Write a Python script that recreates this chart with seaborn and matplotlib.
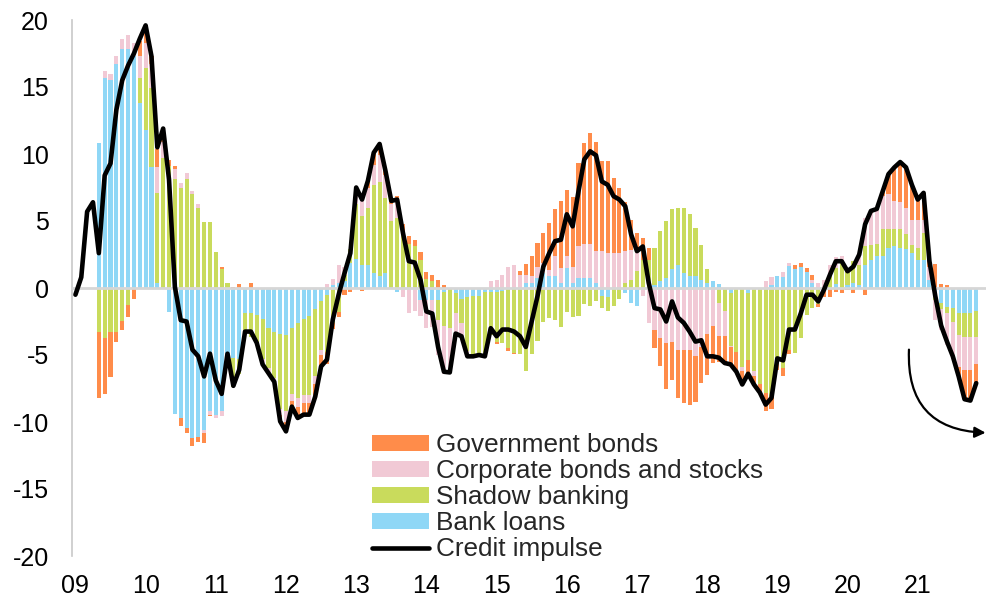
import numpy as np
import pandas as pd
import matplotlib
matplotlib.use("Agg")
import matplotlib.pyplot as plt
from matplotlib.patches import Patch
from matplotlib.lines import Line2D
import seaborn as sns

# ---------------------------------------------------------------------------
# Monthly credit-impulse decomposition (% of GDP)
# ---------------------------------------------------------------------------
bar_start, bar_end = "2009-05", "2021-11"
line_start, line_end = "2009-01", "2021-11"

bank_loans = [
    10.8, 15.7, 15.5, 16.7, 17.85, 17.8, 17.3, 13.8, 11.8, 9.0,
    0.4, 0, -1.8, -9.4, -9.7, -10.45, -11.2, -11.1, -10.6, -9.2,
    -9.45, -9.15, -5.3, -5.2, -5.3, -1.85, -1.85, -2.0, -2.3, -3.0,
    -3.3, -3.4, -3.5, -3.0, -2.6, -2.3, -2.1, -1.6, -1.0, -0.5,
    0.2, 0.4, 0.5, 1.9, 2.2, 1.75, 1.75, 1.1, 0.9, 1.1,
    0, -0.3, 0, 0, 0, -0.9, -0.9, -0.9, -0.9, -0.3,
    0, -0.4, -0.8, -0.7, -0.6, -0.6, -0.3, -0.3, -0.3, -0.2,
    0, 0, 0, 0.35, 0.37, 0.75, 1.1, 0.87, 0.87, 0.37,
    1.5, 0.37, 0.75, 0.75, 0.75, 0.37, -0.6, -0.7, 0, 0,
    -0.35, -1.1, -1.35, 0, 0, 0.25, 0.5, 0.75, 1.4, 1.75,
    1.1, 0.9, 0.9, 0.6, 0.4, 0.5, 0.3, 0, -0.4, 0,
    0, -0.4, 0, 0, 0, 0.2, 0.9, 0.8, 1.65, 1.45,
    1.6, 1.2, 0.4, 0, 0, 0, 0.3, 0, 0.2, 0.4,
    0.2, 1.75, 2.1, 2.4, 2.4, 3.0, 3.1, 3.0, 2.9, 2.6,
    2.1, 2.1, 0.6, -0.6, -1.1, -1.4, -1.5, -1.9, -1.9, -1.9, -1.75,
]

shadow_banking = [
    -3.25, -3.75, -3.25, -3.25, -2.45, -1.3, 0, 1.9, 4.6, 5.9,
    6.7, 9.7, 9.1, 8.1, 7.5, 8.1, 7.0, 6.0, 4.9, 4.9,
    2.7, 1.4, 0.4, -2.2, -1.1, -1.4, -1.8, -2.1, -3.0, -3.0,
    -3.4, -5.6, -5.7, -4.9, -5.6, -5.7, -5.9, -5.0, -3.6, -4.3,
    -2.6, -1.8, 0.5, 1.0, 4.1, 3.6, 4.2, 6.6, 7.0, 5.6,
    5.0, 5.2, 4.25, 3.25, 3.1, 2.1, 0.7, 0.5, -1.5, -2.5,
    -3.0, -1.5, -1.8, -4.0, -4.5, -4.4, -4.6, -3.2, -3.7, -3.9,
    -4.5, -4.85, -4.9, -6.2, -4.9, -3.95, -2.5, -2.25, -2.4, -2.9,
    -1.8, -2.2, -2.1, -1.2, -1.35, -1.0, -0.9, -1.05, -1.35, -0.85,
    0.4, 0.6, 1.25, 2.1, 2.1, 2.75, 3.75, 4.25, 4.5, 4.25,
    4.85, 4.6, 3.6, 2.6, 1.0, 0, -1.1, -1.75, -3.9, -4.75,
    -5.9, -5.0, -6.2, -7.2, -7.8, -8.1, -5.5, -6.0, -4.6, -4.85,
    -3.75, -2.0, -1.5, -1.2, 0, 0.9, 1.2, 1.9, 1.2, 1.6,
    1.5, 1.4, 1.1, 0.9, 2.0, 1.4, 1.3, 1.4, 1.1, 0.6,
    0.9, 2.0, 0, -0.3, -0.5, -0.5, -1.0, -1.6, -1.75, -1.75, -1.9,
]

corporate_bonds_stocks = [
    0, 0.5, 0.5, 0.6, 0.7, 1.05, 1.0, 1.6, 1.9, 1.8,
    1.9, 1.2, 0, 0.8, 0.3, 0.5, 0.25, 0.25, -0.25, -0.25,
    -0.25, -0.4, 0, 0, 0, 0, 0, 0, -0.4, -0.35,
    -0.3, -0.5, -0.8, -0.5, -0.7, -0.6, -0.6, -0.6, -0.4, 0.3,
    0.5, 1.3, 0.6, 0, 1.2, 1.5, 1.5, 1.5, 2.0, 1.75,
    1.3, 1.2, -0.65, -1.85, -1.7, -1.2, -2.05, -2.0, -2.6, -3.65,
    -3.3, -1.5, -1.0, -0.4, 0, 0, 0, 0.5, 0.6, 1.0,
    1.6, 1.7, 1.0, 0.6, 0.5, 0.85, 0.75, 0.5, 1.5, 1.1,
    0.9, 1.2, 2.35, 2.5, 2.5, 2.4, 2.75, 2.6, 2.6, 2.6,
    2.35, 2.25, 1.6, -0.6, -2.6, -3.1, -3.75, -4.1, -4.0, -4.6,
    -4.6, -4.6, -5.1, -4.4, -3.4, -2.85, -2.5, -1.85, -0.1, 0,
    -0.3, 0, -0.4, 0, 0.5, 0.6, 0, 0.4, 0.2, 0,
    0, 0, 0.2, 0.4, 0.6, 0.8, 0.8, 0.5, 0, 0,
    0.9, 2.1, 2.4, 2.5, 2.5, 2.6, 2.1, 2.0, 2.0, 1.9,
    2.1, 1.0, 1.0, -1.5, -1.5, -2.35, -2.6, -2.4, -2.5, -2.5, -2.0,
]

government_bonds = [
    -4.95, -4.15, -3.4, -0.75, -0.7, -0.9, -0.8, 1.1, 1.3, 0.6,
    1.4, 1.0, 0.45, 0.2, -0.6, -0.4, -0.6, -0.4, -0.7, -0.1,
    0, 0.2, 0, 0.1, 0.3, 0, 0.4, 0, 0, 0,
    0, -0.45, -0.7, -0.45, -0.8, -0.85, -0.85, -0.9, -0.85, -0.85,
    -0.45, -0.4, -0.5, -0.3, 0, -0.25, 0.55, 0.9, 0.85, 0.3,
    0.2, 0.5, 0.5, 0.6, 0.5, 0.6, 0.5, 0.5, 0.6, 0.2,
    0, 0, 0, 0, 0, 0, -0.2, 0, -0.2, 0,
    -0.2, -0.1, 0.3, 0.85, 1.55, 1.75, 2.25, 3.5, 3.5, 5.0,
    4.9, 5.2, 6.2, 7.6, 8.3, 8.1, 6.7, 6.85, 5.6, 4.85,
    3.7, 2.25, 1.25, 1.6, 0.9, -1.4, -2.1, -3.4, -2.9, -3.6,
    -3.95, -4.15, -3.4, -2.7, -3.1, -2.75, -1.9, -2.0, -1.3, -1.5,
    -1.0, -1.0, -0.6, -0.6, -1.4, -0.9, -0.65, -0.6, -0.35, 0.3,
    0.25, 0.3, 0.4, -0.2, -0.7, -0.7, -0.3, -0.4, -0.15, -0.4,
    -0.1, -0.5, 0.15, 0.1, 0.3, 1.5, 2.5, 3.0, 3.0, 2.6,
    1.5, 2.0, 0.5, 1.8, 0.3, 0.25, 0, -0.7, -2.15, -2.25, -1.45,
]

credit_impulse = [
    -0.5, 0.8, 5.7, 6.4, 2.6, 8.4, 9.3, 13.3, 15.5, 16.6,
    17.5, 18.6, 19.6, 17.3, 10.5, 11.9, 8.1, 0.1, -2.4, -2.5,
    -4.6, -5.1, -6.6, -4.9, -6.9, -7.9, -4.9, -7.3, -6.1, -3.25,
    -3.25, -4.1, -5.7, -6.35, -7.0, -9.95, -10.7, -8.85, -9.7, -9.45,
    -9.45, -8.1, -5.85, -5.35, -2.35, -0.5, 1.1, 2.6, 7.5, 6.6,
    8.0, 10.1, 10.75, 8.75, 6.5, 6.6, 4.1, 2.0, 1.9, 0.6,
    -1.75, -1.9, -4.4, -6.25, -6.3, -3.4, -3.6, -5.1, -5.1, -5.0,
    -5.1, -3.0, -3.6, -3.1, -3.1, -3.25, -3.6, -4.4, -2.5, -0.6,
    1.6, 2.6, 3.5, 3.6, 5.5, 4.6, 7.2, 9.6, 10.2, 9.9,
    7.95, 7.7, 6.85, 6.6, 6.1, 4.0, 2.75, 3.1, 0.4, -1.5,
    -1.6, -2.5, -1.0, -2.2, -2.6, -3.25, -4.0, -3.9, -5.1, -5.1,
    -5.2, -5.6, -5.7, -6.25, -7.2, -6.4, -7.2, -7.8, -8.7, -8.2,
    -5.25, -5.4, -3.1, -3.1, -1.9, -0.5, -0.5, -1.0, -0.1, 1.0,
    2.0, 2.0, 1.25, 1.6, 2.5, 4.75, 5.75, 5.9, 7.2, 8.5,
    9.0, 9.4, 9.0, 7.7, 6.6, 7.1, 2.0, -0.6, -2.8, -4.0,
    -5.1, -6.6, -8.3, -8.4, -7.1,
]

year_labels = ["09", "10", "11", "12", "13", "14", "15", "16",
               "17", "18", "19", "20", "21"]
series_names = ["Government bonds", "Corporate bonds and stocks",
                "Shadow banking", "Bank loans", "Credit impulse"]

# ---------------------------------------------------------------------------
# Styling
# ---------------------------------------------------------------------------
sns.set_theme(style="white")
plt.rcParams["font.family"] = ["Liberation Sans", "DejaVu Sans"]
plt.rcParams["axes.unicode_minus"] = False

C_GOV = "#FF8C4A"
C_CORP = "#F1C9D5"
C_SHADOW = "#C9DB5C"
C_BANK = "#8FD7F6"
C_AXIS = "#C8C8C8"
FS = 18


def month_index(start, end):
    periods = pd.period_range(start, end, freq="M")
    return np.array([(p.year - 2009) * 12 + p.month - 1 for p in periods])


bar_x = month_index(bar_start, bar_end)
line_x = month_index(line_start, line_end)

fig = plt.figure(figsize=(9.87, 5.99), dpi=100)
ax = fig.add_axes([72.5 / 987, 43 / 599, (985 - 72.5) / 987, 536 / 599])

# Stacked bars: components stack outward from zero (bank loans innermost),
# positives and negatives separately. Outer cumulative totals are drawn
# first so inner layers paint over them.
layers = np.vstack([bank_loans, shadow_banking,
                    corporate_bonds_stocks, government_bonds])
layer_colors = [C_BANK, C_SHADOW, C_CORP, C_GOV]
pos_stack = np.clip(layers, 0, None).cumsum(axis=0)
neg_stack = np.clip(layers, None, 0).cumsum(axis=0)

for stack in (pos_stack, neg_stack):
    for k in range(3, -1, -1):
        sns.barplot(x=bar_x, y=stack[k], native_scale=True, orient="x",
                    width=0.7, color=layer_colors[k], saturation=1,
                    errorbar=None, linewidth=0, ax=ax, zorder=1)

sns.lineplot(x=line_x, y=credit_impulse, color="black", linewidth=3.3,
             ax=ax, zorder=4)

# Axes
ax.set_xlim(-0.5, 155.5)
ax.set_ylim(-20, 20)
ax.set_xlabel("")
ax.set_ylabel("")
ax.grid(False)

for side in ("top", "right"):
    ax.spines[side].set_visible(False)
ax.spines["left"].set_color(C_AXIS)
ax.spines["left"].set_linewidth(1.2)
ax.spines["bottom"].set_position(("data", 0))
ax.spines["bottom"].set_color("#D6D6D6")
ax.spines["bottom"].set_linewidth(2)
ax.spines["bottom"].set_zorder(2.5)

ax.set_yticks(np.arange(-20, 21, 5))
ax.tick_params(axis="y", direction="out", length=3, width=1,
               color=C_AXIS, pad=14, labelsize=FS, labelcolor="black")

# year boundaries marked on the zero line
ax.set_xticks(np.arange(len(year_labels) + 1) * 12 - 0.5)
ax.tick_params(axis="x", direction="out", length=3, width=1,
               color=C_AXIS, labelbottom=False)

# year labels along the bottom of the plot area
sec = ax.secondary_xaxis("bottom")
sec.set_xticks(np.arange(len(year_labels)) * 12, labels=year_labels)
sec.tick_params(length=0, pad=13, labelsize=FS, labelcolor="black")
sec.spines["bottom"].set_visible(False)

# Legend
handles = [Patch(facecolor=C_GOV, edgecolor="none"),
           Patch(facecolor=C_CORP, edgecolor="none"),
           Patch(facecolor=C_SHADOW, edgecolor="none"),
           Patch(facecolor=C_BANK, edgecolor="none"),
           Line2D([], [], color="black", linewidth=3.3)]
ax.legend(handles, series_names, loc="upper left",
          bbox_to_anchor=(372 / 987, 1 - 433 / 599),
          bbox_transform=fig.transFigure, frameon=False, fontsize=18.8,
          handlelength=2.2, handleheight=0.56, handletextpad=0.27,
          labelspacing=0.08, borderpad=0, borderaxespad=0)

# Curved arrow pointing at the latest turn
ax.annotate("", xy=(155.6, -10.8), xytext=(142.5, -4.6),
            arrowprops=dict(arrowstyle="-|>", color="black", lw=1.6,
                            connectionstyle="arc3,rad=0.5",
                            mutation_scale=16, shrinkA=0, shrinkB=0),
            annotation_clip=False)

fig.savefig("out.png", dpi=100)
